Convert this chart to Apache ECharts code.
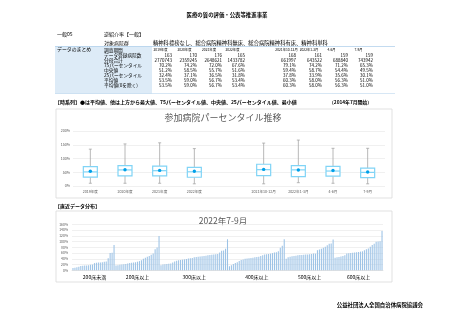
<!DOCTYPE html>
<html>
<head>
<meta charset="utf-8">
<script src="https://cdn.jsdelivr.net/npm/echarts/dist/echarts.min.js"></script>
<style>
  html, body { margin: 0; padding: 0; background: #fff; }
  #main { width: 452px; height: 320px; }
</style>
</head>
<body>
<div id="main"></div>
<script>
// 調査期間ごとの集計
var periods = ['2019年度', '2020年度', '2021年度', '2022年度', '2021年10-12月', '2022年1-3月', '4-6月', '7-9月'];
var hospCount = [163, 170, 176, 165, 168, 161, 159, 159];
var denomTotal = [2770743, 2359245, 2648621, 1433782, 661997, 643522, 688840, 743942];
var p75 = [70.2, 74.2, 72.0, 67.6, 79.1, 74.2, 71.2, 65.3];
var median = [51.2, 58.5, 55.7, 51.6, 59.4, 58.7, 54.4, 49.5];
var p25 = [32.4, 37.1, 36.5, 31.8, 37.8, 33.9, 35.6, 30.1];
var mean = [53.5, 59.0, 56.7, 53.4, 60.3, 58.0, 56.3, 51.0];
var meanNoZero = [53.5, 59.0, 56.7, 53.4, 60.3, 58.0, 56.3, 51.0];
var maxVal = [134, 153, 157, 136, 156, 167, 137, 137];
var minVal = [10, 10, 10, 8, 8, 12, 10, 8];

// 直近データ分布 (2022年7-9月)
var groupNames = ['200床未満', '200床以上', '300床以上', '400床以上', '500床以上', '600床以上'];
var g200u = [8, 9, 11, 12, 15, 16, 17, 17, 18, 19, 20, 25, 26, 27, 27, 28, 30, 31, 42, 60, 61, 88];
var g200 = [17, 18, 19, 20, 21, 22, 24, 25, 26, 27, 28, 30, 32, 35, 40, 44, 47, 50, 54, 58, 73, 79, 119];
var g300 = [18, 20, 21, 22, 23, 24, 27, 31, 33, 35, 36, 37, 38, 39, 41, 42, 43, 45, 46, 47, 48, 49, 50, 51, 52, 53, 54, 55, 56, 57, 62, 68, 69, 75, 108];
var g400 = [14, 18, 22, 25, 28, 32, 36, 38, 40, 41, 42, 43, 44, 45, 46, 47, 50, 52, 55, 56, 57, 58, 60, 62, 63, 66, 78, 85, 108];
var g500 = [40, 45, 47, 49, 50, 51, 52, 53, 53, 54, 55, 55, 56, 57, 58, 58, 70, 72, 75, 78, 82, 87, 92, 93, 107];
var g600 = [44, 45, 46, 48, 50, 52, 58, 59, 60, 61, 62, 63, 64, 65, 66, 70, 73, 76, 82, 88, 92, 99, 100, 101, 137];
var groups = [g200u, g200, g300, g400, g500, g600];

var FONT = '"Noto Sans CJK JP", "Noto Sans", sans-serif';

// box plot: blank slot between yearly and quarterly
var boxCats = periods.slice(0, 4).concat([''], periods.slice(4));
var boxData = [];
periods.forEach(function (p, i) {
  var idx = i < 4 ? i : i + 1;
  boxData.push([idx, maxVal[i], p75[i], median[i], p25[i], minVal[i], mean[i]]);
});

// bars
var barNames = [], barVals = [], labelIdx = {};
groups.forEach(function (g, gi) {
  labelIdx[barNames.length + Math.floor(g.length / 2)] = true;
  g.forEach(function (v) {
    barNames.push(groupNames[gi]);
    barVals.push(v);
  });
});

function txt(x, y, s, size, opt) {
  opt = opt || {};
  return {
    type: 'text', x: x, y: y, silent: true,
    style: {
      text: s,
      font: (opt.bold ? 'bold ' : '') + size + 'px ' + FONT,
      fill: opt.color || '#000',
      align: opt.align || 'left',
      verticalAlign: 'middle'
    }
  };
}

var g = [];
g.push(txt(227, 15, '医療の質の評価・公表等推進事業', 5.4, {bold: true, align: 'center'}));
g.push(txt(57, 34, '一般05', 5));
g.push(txt(104, 34, '逆紹介率【一般】', 5));
g.push(txt(104, 43, '対象病院群', 5));
g.push(txt(153, 43, '精神科標榜なし、総合病院精神科無床、総合病院精神科有床、精神科単科', 5.3));

// table
g.push({type: 'rect', silent: true, shape: {x: 55, y: 46.5, width: 97, height: 47}, style: {fill: '#ddebf7'}});
g.push({type: 'line', silent: true, shape: {x1: 55, y1: 46.5, x2: 395, y2: 46.5}, style: {stroke: '#9bc2e6', lineWidth: 0.6}});
g.push({type: 'line', silent: true, shape: {x1: 55, y1: 93.5, x2: 395, y2: 93.5}, style: {stroke: '#9bc2e6', lineWidth: 0.4}});
g.push(txt(57, 49.5, 'データのまとめ', 4.9));
var rowLabels = ['調査期間', 'データ登録病院数', '分母合計', '75パーセンタイル', '中央値', '25パーセンタイル', '平均値', '平均値(0を除く)'];
var rowY = [49.8, 55.2, 60.6, 65.6, 70.6, 75.6, 80.6, 85.6];
rowLabels.forEach(function (l, i) { g.push(txt(104, rowY[i], l, 4.7)); });
var headX = [160.5, 184.5, 209, 232.5, 286.5, 309, 331.5, 358.5];
var colR = [172, 197, 222, 245, 296, 322, 348, 373];
var pct = function (v) { return v.toFixed(1) + '%'; };
var rows = [
  hospCount.map(String),
  denomTotal.map(String),
  p75.map(pct), median.map(pct), p25.map(pct), mean.map(pct), meanNoZero.map(pct)
];
periods.forEach(function (p, i) {
  g.push(txt(headX[i], 49.5, p, 3.3, {align: 'center'}));
  rows.forEach(function (r, ri) {
    g.push(txt(colR[i], rowY[ri + 1], r[i], 4.5, {align: 'right'}));
  });
});

g.push(txt(55, 102, '【時系列】●は平均値、他は上方から最大値、75パーセンタイル値、中央値、25パーセンタイル値、最小値', 5, {bold: true}));
g.push(txt(329, 102, '（2014年7月開始）', 4.8, {bold: true}));

// panels
g.push({type: 'rect', silent: true, z: -1, shape: {x: 56, y: 109, width: 336, height: 89}, style: {fill: 'none', stroke: '#d9d9d9', lineWidth: 0.8}});
g.push(txt(223, 118, '参加病院パーセンタイル推移', 9, {color: '#595959', align: 'center'}));
g.push(txt(55, 206.5, '【直近データ分布】', 5, {bold: true}));
g.push({type: 'rect', silent: true, z: -1, shape: {x: 56, y: 211, width: 336, height: 71}, style: {fill: 'none', stroke: '#d9d9d9', lineWidth: 0.8}});
g.push(txt(223, 221, '2022年7-9月', 8.5, {color: '#595959', align: 'center'}));
g.push(txt(423, 304.5, '公益社団法人全国自治体病院協議会', 5.4, {bold: true, align: 'right'}));

function renderBox(params, api) {
  var x = api.value(0);
  var c = function (k) { return api.coord([x, api.value(k)]); };
  var pMax = c(1), pQ3 = c(2), pMed = c(3), pQ1 = c(4), pMin = c(5), pMean = c(6);
  var cx = pMax[0], hw = 7, cap = 1.5;
  var wStyle = {stroke: '#a6a6a6', lineWidth: 0.8};
  var bStyle = {stroke: '#80d4f6', lineWidth: 1.2};
  return {
    type: 'group',
    children: [
      {type: 'line', shape: {x1: cx, y1: pMax[1], x2: cx, y2: pQ3[1]}, style: wStyle},
      {type: 'line', shape: {x1: cx, y1: pQ1[1], x2: cx, y2: pMin[1]}, style: wStyle},
      {type: 'line', shape: {x1: cx - cap, y1: pMax[1], x2: cx + cap, y2: pMax[1]}, style: wStyle},
      {type: 'line', shape: {x1: cx - cap, y1: pMin[1], x2: cx + cap, y2: pMin[1]}, style: wStyle},
      {type: 'rect', shape: {x: cx - hw, y: pQ3[1], width: hw * 2, height: pQ1[1] - pQ3[1]}, style: {fill: '#fff', stroke: bStyle.stroke, lineWidth: bStyle.lineWidth}},
      {type: 'line', shape: {x1: cx - hw, y1: pMed[1], x2: cx + hw, y2: pMed[1]}, style: bStyle},
      {type: 'circle', shape: {cx: cx, cy: pMean[1], r: 1.7}, style: {fill: '#00a0e9'}}
    ]
  };
}

var chart = echarts.init(document.getElementById('main'), null, {renderer: 'canvas'});
var axisLab = {fontSize: 3.6, color: '#595959', fontFamily: FONT};
var option = {
  backgroundColor: '#fff',
  animation: false,
  graphic: g,
  grid: [
    {left: 73, right: 67, top: 131, bottom: 134},
    {left: 72, right: 69, top: 224.3, bottom: 49.7}
  ],
  xAxis: [
    {
      gridIndex: 0, type: 'category', data: boxCats,
      axisLine: {show: false}, axisTick: {show: false},
      axisLabel: Object.assign({margin: 4, interval: 0}, axisLab)
    },
    {
      gridIndex: 1, type: 'category', data: barNames,
      axisLine: {lineStyle: {color: '#d9d9d9', width: 0.6}}, axisTick: {show: false},
      axisLabel: {
        margin: 4.5, fontSize: 5, color: '#000', fontFamily: FONT,
        interval: function (i) { return !!labelIdx[i]; }
      }
    }
  ],
  yAxis: [
    {
      gridIndex: 0, type: 'value', min: 0, max: 200, interval: 50,
      axisLine: {show: false}, axisTick: {show: false},
      axisLabel: Object.assign({margin: 3, formatter: '{value}%'}, axisLab),
      splitLine: {lineStyle: {color: '#e6e6e6', width: 0.6}}
    },
    {
      gridIndex: 1, type: 'value', min: 0, max: 160, interval: 20,
      axisLine: {show: false}, axisTick: {show: false},
      axisLabel: Object.assign({margin: 4, formatter: '{value}%'}, axisLab, {fontSize: 3.4}),
      splitLine: {lineStyle: {color: '#e6e6e6', width: 0.6}}
    }
  ],
  series: [
    {
      type: 'custom', xAxisIndex: 0, yAxisIndex: 0,
      renderItem: renderBox,
      encode: {x: 0, y: [1, 2, 3, 4, 5, 6]},
      data: boxData
    },
    {
      type: 'bar', xAxisIndex: 1, yAxisIndex: 1,
      data: barVals, barCategoryGap: '45%',
      itemStyle: {color: '#9dc3e6'}
    }
  ]
};
chart.setOption(option);
</script>
</body>
</html>
